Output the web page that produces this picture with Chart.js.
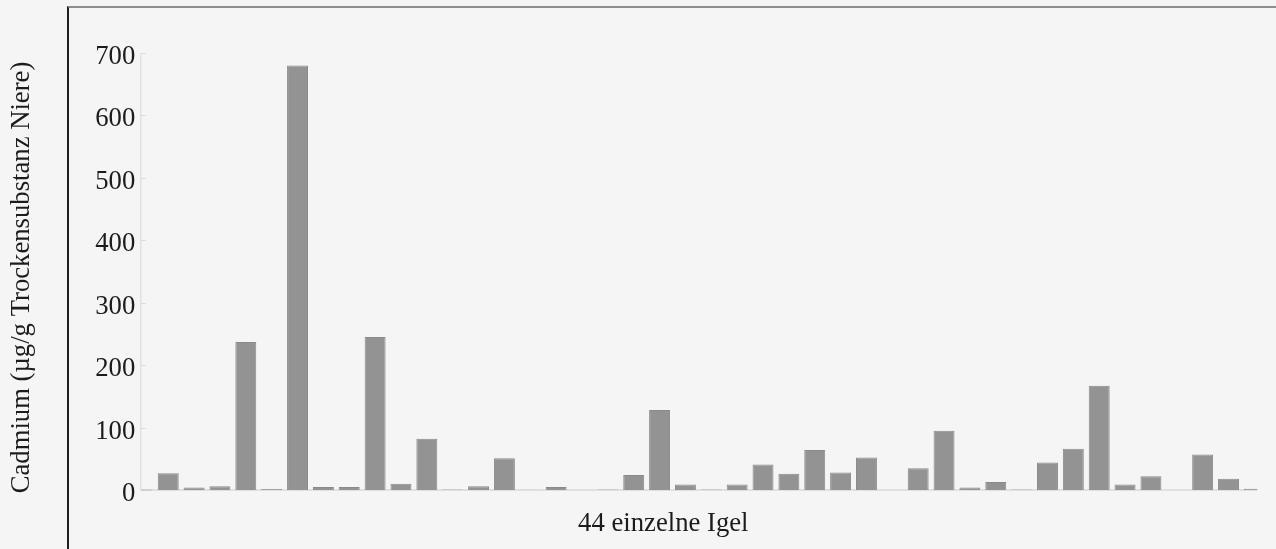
<!DOCTYPE html>
<html lang="de">
<head>
<meta charset="utf-8">
<title>Cadmium in Igelnieren</title>
<script src="https://cdn.jsdelivr.net/npm/chart.js@4"></script>
<style>
  html, body { margin: 0; padding: 0; background: #f5f5f5; }
  #wrap { position: relative; width: 1276px; height: 549px; overflow: hidden; }
  #frame {
    position: absolute; left: 67px; top: 6px; right: -10px; bottom: -10px;
    border-left: 2px solid #1e1e1e; border-top: 2px solid #8e8e8e;
    pointer-events: none;
  }
  canvas { display: block; }
</style>
</head>
<body>
<div id="wrap">
  <canvas id="chart" width="1276" height="549"></canvas>
  <div id="frame"></div>
</div>
<script>
// Cadmium content of the kidney, one bar per hedgehog
const igel = ['1','2','3','4','5','6','7','8','9','10','11','12','13','14','15',
  '16','17','18','19','20','21','22','23','24','25','26','27','28','29','30',
  '31','32','33','34','35','36','37','38','39','40','41','42','43'];
const cadmium = [27, 4, 6, 237, 1.5, 680, 5, 5, 245, 10, 82, 1, 6, 51, 0.5,
  5, 0, 1, 24, 128, 9, 1, 9, 41, 26, 64, 28, 52, 0, 35,
  95, 4, 13, 1, 44, 66, 167, 9, 22, 0, 57, 18, 2];
const yTicks = [0, 100, 200, 300, 400, 500, 600, 700];

const yTitle = 'Cadmium (µg/g Trockensubstanz Niere)';
const xTitle = '44 einzelne Igel';
const FONT = '"Liberation Serif", "Times New Roman", serif';
const FONT_SIZE = 26.7;

// Thin axis line with inward tick marks, the zero baseline and both axis titles
const axisDecor = {
  id: 'axisDecor',
  beforeDatasetsDraw(chart) {
    const { ctx, chartArea, scales: { y } } = chart;
    const ax = chartArea.left - 14.5;
    const y0 = y.getPixelForValue(0);
    const yTop = y.getPixelForValue(yTicks[yTicks.length - 1]);
    ctx.save();
    ctx.strokeStyle = '#dcdcdc';
    ctx.lineWidth = 1.2;
    ctx.beginPath();
    ctx.moveTo(ax, yTop);
    ctx.lineTo(ax, y0);
    yTicks.forEach(v => {
      const py = Math.round(y.getPixelForValue(v)) + 0.5;
      ctx.moveTo(ax, py);
      ctx.lineTo(ax + 5, py);
    });
    ctx.stroke();
    ctx.strokeStyle = '#e0e0e0';
    ctx.lineWidth = 2;
    ctx.beginPath();
    ctx.moveTo(ax, y0);
    ctx.lineTo(chartArea.right - 10, y0);
    ctx.stroke();
    ctx.strokeStyle = '#cfcfcf';
    ctx.beginPath();
    ctx.moveTo(ax, y0);
    ctx.lineTo(ax + 11, y0);
    ctx.stroke();
    ctx.restore();
  },
  afterDraw(chart) {
    const { ctx, chartArea } = chart;
    ctx.save();
    ctx.fillStyle = '#1c1c1c';
    ctx.font = FONT_SIZE + 'px ' + FONT;
    ctx.textAlign = 'center';
    ctx.textBaseline = 'alphabetic';
    ctx.fillText(xTitle, (chartArea.left + chartArea.right) / 2 - 48, chartArea.bottom + 41);
    ctx.translate(29, (chartArea.top + chartArea.bottom) / 2 + 6);
    ctx.rotate(-Math.PI / 2);
    ctx.fillText(yTitle, 0, 0);
    ctx.restore();
  }
};

new Chart(document.getElementById('chart'), {
  type: 'bar',
  data: {
    labels: igel,
    datasets: [{
      data: cadmium,
      backgroundColor: '#939393',
      borderColor: '#8a8a8a',
      borderWidth: 1,
      barPercentage: 0.81,
      categoryPercentage: 1,
      clip: { left: false, top: false, right: -10, bottom: false }
    }]
  },
  options: {
    responsive: false,
    animation: false,
    layout: { padding: { top: 53, right: 8.7, bottom: 59, left: 0 } },
    plugins: { legend: { display: false }, tooltip: { enabled: false }, title: { display: false } },
    scales: {
      x: { display: false, offset: true },
      y: {
        min: 0,
        max: 700,
        afterFit(scale) { scale.width = 155.3; },
        afterBuildTicks(scale) { scale.ticks = yTicks.map(v => ({ value: v })); },
        grid: { display: false, drawTicks: false },
        border: { display: false },
        ticks: {
          padding: 20,
          labelOffset: 4,
          color: '#1c1c1c',
          font: { family: FONT, size: FONT_SIZE }
        }
      }
    }
  },
  plugins: [axisDecor]
});
</script>
</body>
</html>
